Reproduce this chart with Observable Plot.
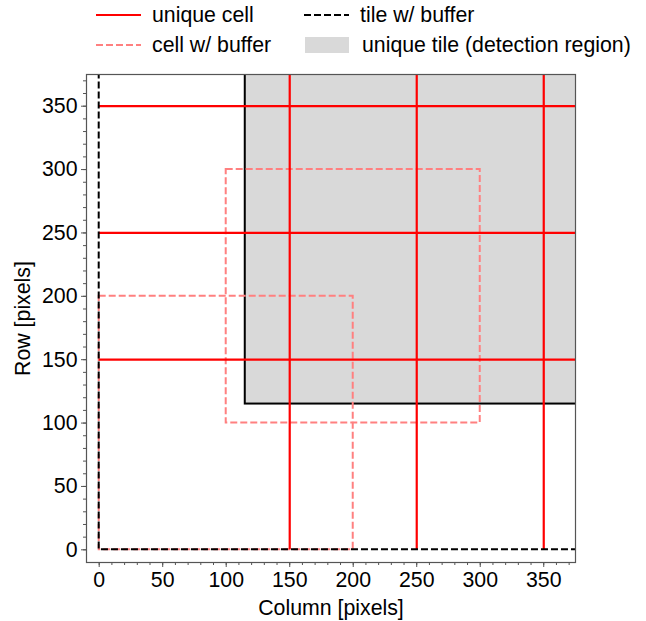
<!DOCTYPE html>
<html>
<head>
<meta charset="utf-8">
<script src="https://cdn.jsdelivr.net/npm/d3@7"></script>
<script src="https://cdn.jsdelivr.net/npm/@observablehq/plot@0.6"></script>
<style>
  html, body { margin: 0; padding: 0; background: #fff; }
  body { width: 646px; height: 621px; overflow: hidden; font-family: "Liberation Sans", Arial, sans-serif; }
  #legend { position: relative; width: 646px; height: 60px; font-size: 21.3px; color: #000; }
  .item { position: absolute; display: flex; align-items: center; height: 24px; white-space: nowrap; }
  .item svg { display: block; margin-right: 11px; }
</style>
</head>
<body>
<div id="legend"></div>
<div id="chart"></div>
<script>
// ---- data ----
const cellEdges = [150, 250, 350];                 // unique cell grid lines
const cellBuffers = [                              // cells with buffer
  {x1: 0, y1: 0, x2: 200, y2: 200},
  {x1: 100, y1: 100, x2: 300, y2: 300}
];
const tileBuffer = [{x1: 0, y1: 0, x2: 420, y2: 420}];     // tile w/ buffer
const uniqueTile = [{x1: 115, y1: 115, x2: 420, y2: 420}]; // detection region
const majorTicks = [0, 50, 100, 150, 200, 250, 300, 350];
const minorTicks = d3.range(0, 371, 10);
const legendItems = [
  {label: "unique cell", kind: "line", color: "red", dash: null, left: 96, top: 3},
  {label: "cell w/ buffer", kind: "line", color: "#ff8080", dash: "7,3", left: 96, top: 33},
  {label: "tile w/ buffer", kind: "line", color: "black", dash: "7,3", left: 304, top: 3},
  {label: "unique tile (detection region)", kind: "patch", color: "#d9d9d9", dash: null, left: 305, top: 33}
];

// ---- legend ----
const legend = document.getElementById("legend");
for (const it of legendItems) {
  const div = document.createElement("div");
  div.className = "item";
  div.style.left = it.left + "px";
  div.style.top = it.top + "px";
  let sw;
  if (it.kind === "line") {
    sw = `<svg width="45" height="24"><line x1="0" x2="45" y1="12" y2="12" stroke="${it.color}" stroke-width="2" ${it.dash ? `stroke-dasharray="${it.dash}"` : ""}/></svg>`;
  } else {
    sw = `<svg width="44" height="24"><rect x="0" y="4" width="44" height="16" fill="${it.color}"/></svg>`;
  }
  div.innerHTML = sw + `<span>${it.label}</span>`;
  if (it.kind === "patch") div.querySelector("svg").style.marginRight = "13px";
  legend.appendChild(div);
}

// ---- chart ----
const chart = Plot.plot({
  width: 646,
  height: 561,
  marginTop: 14,
  marginBottom: 59,
  marginLeft: 86,
  marginRight: 71,
  style: {fontFamily: '"Liberation Sans", Arial, sans-serif', fontSize: "21.3px", background: "white", color: "black"},
  x: {domain: [-10, 375]},
  y: {domain: [-10, 375]},
  marks: [
    Plot.rect(uniqueTile, {x1: "x1", y1: "y1", x2: "x2", y2: "y2", fill: "#d9d9d9", stroke: "black", strokeWidth: 2, clip: true}),
    Plot.rect(cellBuffers, {x1: "x1", y1: "y1", x2: "x2", y2: "y2", fill: "none", stroke: "#ff8080", strokeWidth: 2, strokeDasharray: "7,3", clip: true}),
    Plot.ruleX(cellEdges, {x: d => d, y1: 0, y2: 420, stroke: "red", strokeWidth: 2.2, clip: true}),
    Plot.ruleY(cellEdges, {y: d => d, x1: 0, x2: 420, stroke: "red", strokeWidth: 2.2, clip: true}),
    Plot.rect(tileBuffer, {x1: "x1", y1: "y1", x2: "x2", y2: "y2", fill: "none", stroke: "black", strokeWidth: 2, strokeDasharray: "7,3", clip: true}),
    Plot.frame({stroke: "#555", strokeWidth: 1.2}),
    Plot.axisX(minorTicks, {tickSize: 3, text: null, label: null, stroke: "#555"}),
    Plot.axisY(minorTicks, {tickSize: 3, text: null, label: null, stroke: "#555"}),
    Plot.axisX(majorTicks, {tickSize: 5, tickPadding: 4, stroke: "#555", fill: "black", label: "Column [pixels]", labelAnchor: "center", labelArrow: "none", labelOffset: 52}),
    Plot.axisY(majorTicks, {tickSize: 5, tickPadding: 4, stroke: "#555", fill: "black", label: "Row [pixels]", labelAnchor: "center", labelArrow: "none", labelOffset: 72})
  ]
});
document.getElementById("chart").appendChild(chart);
</script>
</body>
</html>
